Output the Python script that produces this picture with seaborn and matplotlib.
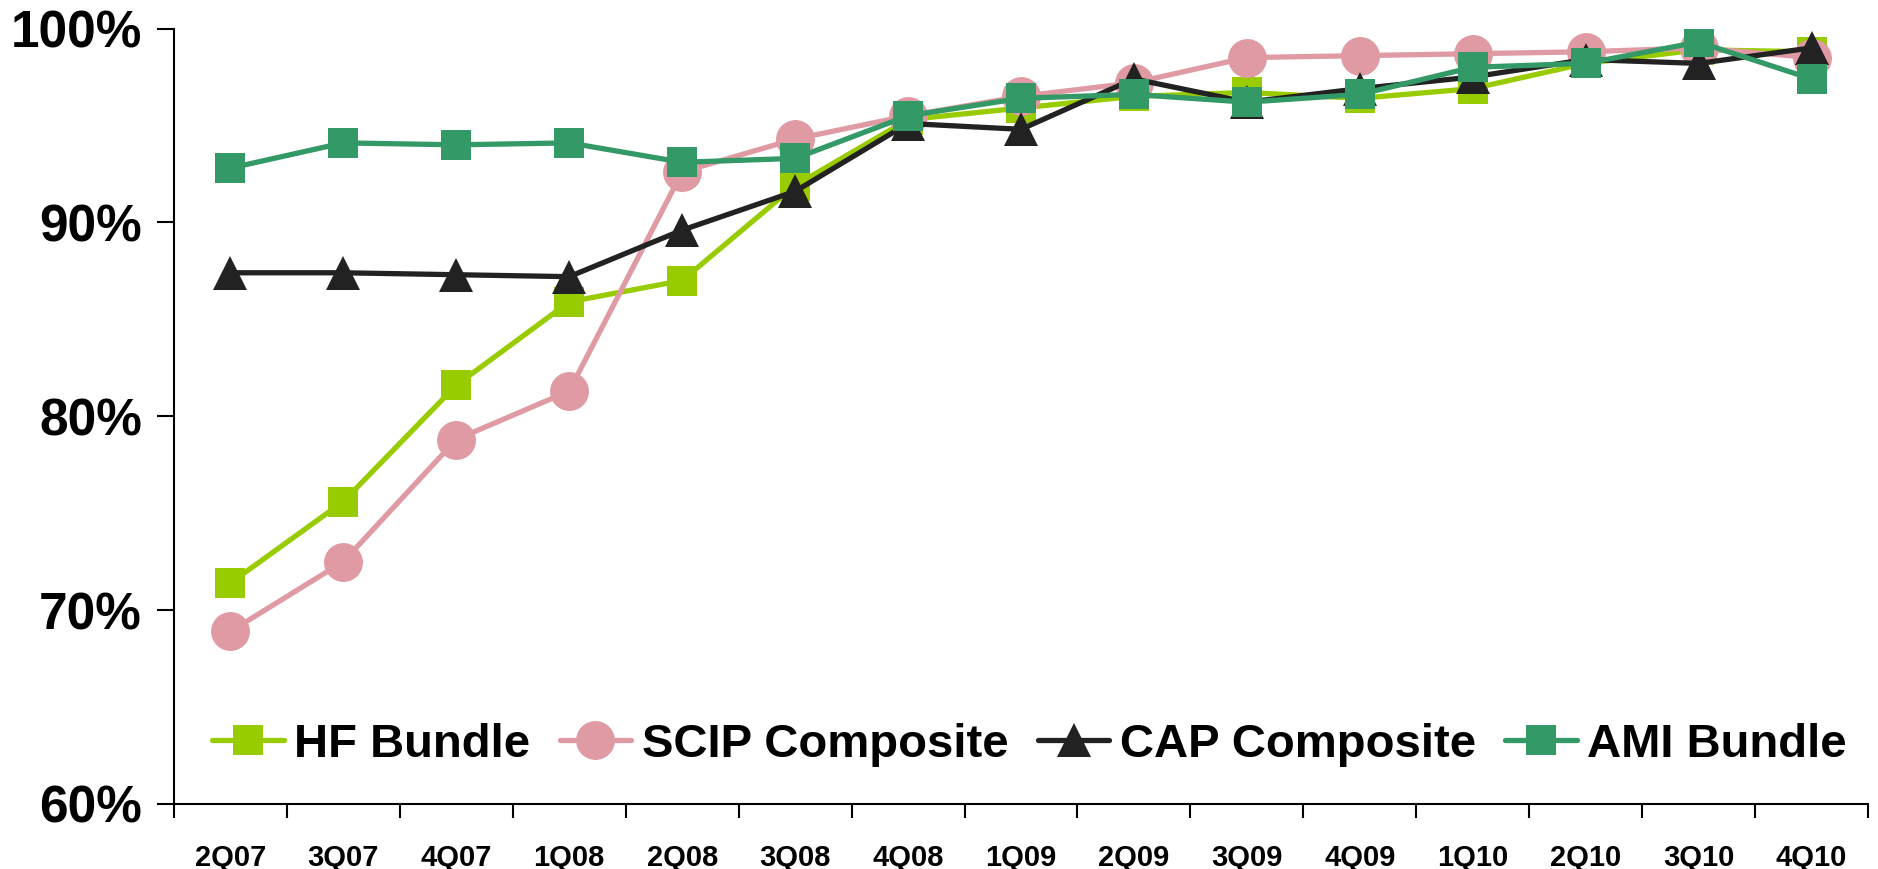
import numpy as np
import pandas as pd
import matplotlib
matplotlib.use("Agg")
import matplotlib.pyplot as plt
import seaborn as sns
from matplotlib.ticker import PercentFormatter, FixedLocator, NullFormatter, FixedFormatter

# ---- data ----
quarters = ["2Q07", "3Q07", "4Q07", "1Q08", "2Q08", "3Q08", "4Q08", "1Q09",
            "2Q09", "3Q09", "4Q09", "1Q10", "2Q10", "3Q10", "4Q10"]
hf_bundle = [0.714, 0.756, 0.816, 0.859, 0.870, 0.919, 0.953, 0.959,
             0.965, 0.967, 0.964, 0.969, 0.982, 0.989, 0.988]
scip_composite = [0.689, 0.725, 0.788, 0.813, 0.926, 0.943, 0.955, 0.965,
                  0.972, 0.985, 0.986, 0.987, 0.988, 0.990, 0.985]
cap_composite = [0.874, 0.874, 0.873, 0.872, 0.896, 0.916, 0.951, 0.948,
                 0.974, 0.962, 0.969, 0.975, 0.984, 0.982, 0.990]
ami_bundle = [0.928, 0.941, 0.940, 0.941, 0.931, 0.933, 0.955, 0.964,
              0.966, 0.962, 0.966, 0.980, 0.982, 0.993, 0.974]
series_names = ["HF Bundle", "SCIP Composite", "CAP Composite", "AMI Bundle"]
y_ticks = [0.6, 0.7, 0.8, 0.9, 1.0]

# ---- styling ----
sns.set_style("white")
plt.rcParams["font.family"] = ["Liberation Sans", "DejaVu Sans"]
plt.rcParams["font.weight"] = "bold"
plt.rcParams["text.color"] = "black"
plt.rcParams["xtick.color"] = "black"
plt.rcParams["ytick.color"] = "black"
plt.rcParams["xtick.labelcolor"] = "black"
plt.rcParams["ytick.labelcolor"] = "black"

colors = ["#99CC00", "#E09AA3", "#222222", "#339966"]
markers = ["s", "o", "^", "s"]
msizes = [21.5, 28, 24, 21.5]

fig = plt.figure(figsize=(18.78, 8.69), dpi=100)
ax = fig.add_axes([0.0926, 0.0748, 0.9021, 0.8924])

pos = np.arange(len(quarters))
all_series = [hf_bundle, scip_composite, cap_composite, ami_bundle]
for name, vals, c, m, ms in zip(series_names, all_series, colors, markers, msizes):
    df = pd.DataFrame({"pos": pos, "val": vals})
    sns.lineplot(data=df, x="pos", y="val", ax=ax, color=c, marker=m,
                 markersize=ms, markeredgewidth=0, linewidth=3.8,
                 label=name, sort=False)

ax.set_xlim(-0.5, len(quarters) - 0.5)
ax.set_ylim(0.6, 1.0)
ax.set_xlabel("")
ax.set_ylabel("")

# y axis
ax.set_yticks(y_ticks)
ax.yaxis.set_major_formatter(PercentFormatter(1.0, decimals=0))
ax.tick_params(axis="y", which="major", length=12, width=1.5, pad=11,
               labelsize=37, direction="out", left=True, color="black",
               labelcolor="black")
for lbl in ax.get_yticklabels():
    lbl.set_fontweight("bold")

# x axis: ticks at boundaries, labels at centers
ax.xaxis.set_major_locator(FixedLocator(np.arange(-0.5, len(quarters), 1.0)))
ax.xaxis.set_major_formatter(NullFormatter())
ax.xaxis.set_minor_locator(FixedLocator(pos))
ax.xaxis.set_minor_formatter(FixedFormatter(quarters))
ax.tick_params(axis="x", which="major", length=10, width=1.5,
               direction="out", bottom=True, color="black")
ax.tick_params(axis="x", which="minor", length=0, pad=29, labelsize=21,
               labelcolor="black")
for lbl in ax.get_xticklabels(minor=True):
    lbl.set_fontweight("bold")

for s in ["top", "right"]:
    ax.spines[s].set_visible(False)
for s in ["left", "bottom"]:
    ax.spines[s].set_color("black")
    ax.spines[s].set_linewidth(1.5)

handles, labels = ax.get_legend_handles_labels()
leg = ax.legend(handles, labels, ncol=4, loc="center left",
                bbox_to_anchor=(0.1129, 0.1427), bbox_transform=fig.transFigure,
                frameon=False, borderpad=0, borderaxespad=0,
                handlelength=1.52, handletextpad=0.22, columnspacing=0.62,
                prop={"size": 34, "weight": "bold"})
for t in leg.get_texts():
    t.set_color("black")

fig.savefig("out.png", dpi=100)
